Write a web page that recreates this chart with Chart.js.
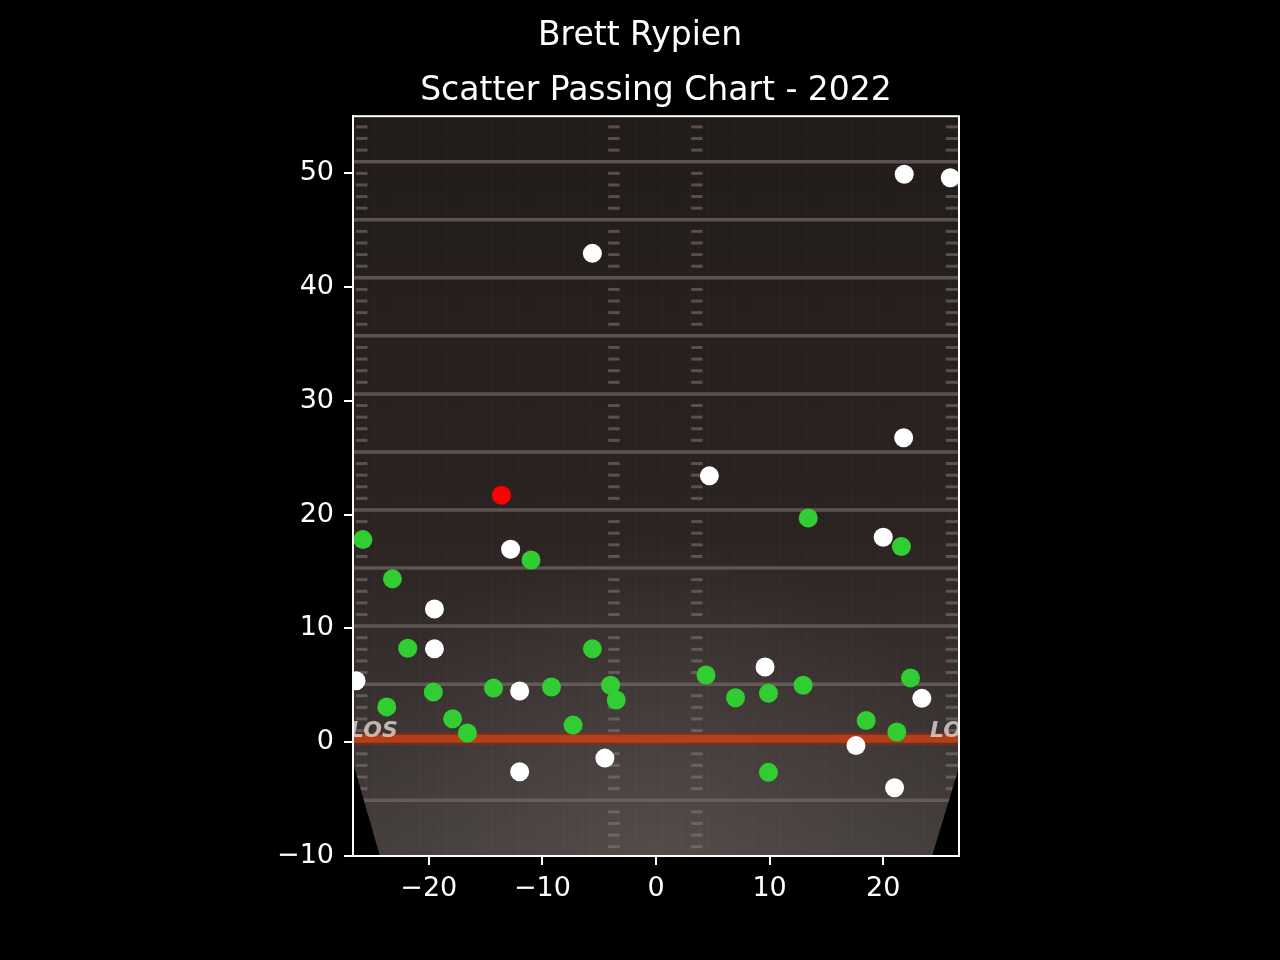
<!DOCTYPE html>
<html>
<head>
<meta charset="utf-8">
<title>Brett Rypien - Scatter Passing Chart - 2022</title>
<script src="https://cdn.jsdelivr.net/npm/chart.js@4.4.1/dist/chart.umd.min.js"></script>
<style>
  html, body { margin: 0; padding: 0; background: #000; }
  #passChart { display: block; }
</style>
</head>
<body>
<canvas id="passChart" width="1280" height="960"></canvas>
<script>
"use strict";

// pass locations: x = yards across field, y = air yards
const completeX = [-25.8, -23.2, -11.0, 13.4, 21.6, -21.85, -5.6, -19.6, -14.3, -9.2, -4.0, -3.5,
  4.4, 7.0, 9.9, 12.95, 22.4, -23.7, -17.9, -16.6, -7.3, 18.5, 21.2, 9.9];
const completeY = [17.8, 14.35, 16.0, 19.7, 17.2, 8.25, 8.2, 4.4, 4.75, 4.85, 5.0, 3.7,
  5.9, 3.9, 4.3, 5.0, 5.65, 3.1, 2.05, 0.8, 1.5, 1.9, 0.9, -2.65];
const incompleteX = [21.85, 25.9, -5.6, 21.8, 4.7, -12.8, 20.0, -19.5, -19.5, 9.6, -26.4, -12.0,
  23.4, 17.6, -4.5, -12.0, 21.0];
const incompleteY = [49.9, 49.6, 42.95, 26.75, 23.4, 16.95, 18.0, 11.7, 8.2, 6.6, 5.4, 4.5,
  3.85, -0.3, -1.4, -2.6, -4.0];
const interceptionX = [-13.6];
const interceptionY = [21.7];

const xTicks = [-20, -10, 0, 10, 20];
const yTicks = [-10, 0, 10, 20, 30, 40, 50];

const toPoints = (xs, ys) => xs.map((x, i) => ({ x: x, y: ys[i] }));
const minusSign = (v) => (v < 0 ? "\u2212" + Math.abs(v) : String(v));

// football field drawn behind the points
const fieldBackground = {
  id: "fieldBackground",
  beforeDatasetsDraw(chart) {
    const { ctx, chartArea: a, scales } = chart;
    const sx = scales.x, sy = scales.y;
    ctx.save();
    ctx.beginPath();
    ctx.rect(a.left, a.top, a.right - a.left, a.bottom - a.top);
    ctx.clip();

    const grad = ctx.createLinearGradient(0, a.top, 0, a.bottom);
    grad.addColorStop(0, "#211b1a");
    grad.addColorStop(0.55, "#2a2321");
    grad.addColorStop(1, "#433d3b");
    ctx.fillStyle = grad;
    ctx.fillRect(a.left, a.top, a.right - a.left, a.bottom - a.top);

    const glow = ctx.createRadialGradient(sx.getPixelForValue(0), a.bottom, 0,
      sx.getPixelForValue(0), a.bottom, 320);
    glow.addColorStop(0, "rgba(120,112,108,0.3)");
    glow.addColorStop(1, "rgba(120,112,108,0)");
    ctx.fillStyle = glow;
    ctx.fillRect(a.left, a.top, a.right - a.left, a.bottom - a.top);

    // faint turf texture
    ctx.strokeStyle = "rgba(255,255,255,0.025)";
    ctx.lineWidth = 1;
    for (let px = a.left + 4; px < a.right; px += 9) {
      ctx.beginPath();
      ctx.moveTo(px, a.top);
      ctx.lineTo(px, a.bottom);
      ctx.stroke();
    }

    // yard lines
    const step = 5.1;
    ctx.strokeStyle = "rgba(115,106,102,0.7)";
    ctx.lineWidth = 3.5;
    for (let k = -2; k <= 11; k++) {
      if (k === 0) continue;
      const py = sy.getPixelForValue(k * step);
      ctx.beginPath();
      ctx.moveTo(a.left, py);
      ctx.lineTo(a.right, py);
      ctx.stroke();
    }

    // hash marks
    const hashCols = [[-26.4, -25.4], [-4.2, -3.2], [3.1, 4.1], [25.5, 26.6]];
    ctx.fillStyle = "rgba(140,130,125,0.5)";
    for (let k = -10; k <= 56; k++) {
      const yy = k * step / 5;
      if (k % 5 === 0) continue;
      const py = sy.getPixelForValue(yy);
      hashCols.forEach(([x0, x1]) => {
        const p0 = sx.getPixelForValue(x0), p1 = sx.getPixelForValue(x1);
        ctx.fillRect(p0, py - 1.5, p1 - p0, 3);
      });
    }

    // line of scrimmage
    const los = sy.getPixelForValue(0.3);
    ctx.fillStyle = "rgba(150,45,15,0.45)";
    ctx.fillRect(a.left, los - 6.5, a.right - a.left, 13);
    ctx.fillStyle = "#b53e18";
    ctx.fillRect(a.left, los - 4, a.right - a.left, 8);
    ctx.font = "italic bold 22px 'DejaVu Sans'";
    ctx.fillStyle = "rgba(225,215,210,0.8)";
    ctx.textBaseline = "middle";
    ctx.textAlign = "left";
    ctx.fillText("LOS", a.left - 3, los - 7);
    ctx.fillText("LOS", a.right - 29, los - 7);

    // field edge falling away at the bottom
    ctx.fillStyle = "#000";
    ctx.beginPath();
    ctx.moveTo(a.left, sy.getPixelForValue(-1.8));
    ctx.lineTo(sx.getPixelForValue(-24.3), a.bottom);
    ctx.lineTo(a.left, a.bottom);
    ctx.closePath();
    ctx.fill();
    ctx.beginPath();
    ctx.moveTo(a.right, sy.getPixelForValue(-2.2));
    ctx.lineTo(sx.getPixelForValue(24.3), a.bottom);
    ctx.lineTo(a.right, a.bottom);
    ctx.closePath();
    ctx.fill();
    ctx.restore();
  },
  afterDraw(chart) {
    const { ctx, chartArea: a } = chart;
    ctx.save();
    ctx.strokeStyle = "#fff";
    ctx.lineWidth = 2;
    ctx.strokeRect(a.left, a.top, a.right - a.left, a.bottom - a.top);
    ctx.restore();
  },
};

const ctx = document.getElementById("passChart").getContext("2d");
new Chart(ctx, {
  type: "scatter",
  data: {
    datasets: [
      { label: "Complete", data: toPoints(completeX, completeY), backgroundColor: "#32cd32" },
      { label: "Incomplete", data: toPoints(incompleteX, incompleteY), backgroundColor: "#ffffff" },
      { label: "Interception", data: toPoints(interceptionX, interceptionY), backgroundColor: "#ff0000" },
    ],
  },
  options: {
    responsive: false,
    devicePixelRatio: 1,
    animation: false,
    layout: { padding: 0 },
    elements: { point: { radius: 9.5, borderWidth: 0, hoverRadius: 9.5 } },
    plugins: {
      legend: { display: false },
      tooltip: { enabled: false },
      title: {
        display: true,
        text: "Brett Rypien",
        color: "#fff",
        font: { family: "'DejaVu Sans'", size: 33, weight: "normal" },
        padding: { top: 17, bottom: 15 },
      },
      subtitle: {
        display: true,
        fullSize: false,
        text: "Scatter Passing Chart - 2022",
        color: "#fff",
        font: { family: "'DejaVu Sans'", size: 33, weight: "normal" },
        padding: { top: 0, bottom: 5 },
      },
    },
    scales: {
      x: {
        type: "linear",
        min: -26.67,
        max: 26.67,
        afterBuildTicks: (s) => { s.ticks = xTicks.map((v) => ({ value: v })); },
        afterFit: (s) => { s.height = 104; },
        grid: { drawOnChartArea: false, drawTicks: true, tickLength: 9, color: "#fff", lineWidth: 2 },
        border: { color: "#fff", width: 2 },
        ticks: {
          color: "#fff",
          padding: 8,
          maxRotation: 0,
          font: { family: "'DejaVu Sans'", size: 27 },
          callback: minusSign,
        },
      },
      y: {
        type: "linear",
        min: -10,
        max: 55,
        afterBuildTicks: (s) => { s.ticks = yTicks.map((v) => ({ value: v })); },
        afterFit: (s) => { s.width = 353; },
        grid: { drawOnChartArea: false, drawTicks: true, tickLength: 9, color: "#fff", lineWidth: 2 },
        border: { color: "#fff", width: 2 },
        ticks: {
          color: "#fff",
          padding: 10,
          font: { family: "'DejaVu Sans'", size: 27 },
          callback: minusSign,
        },
      },
      pad: {
        type: "linear",
        position: "right",
        display: true,
        afterFit: (s) => { s.width = 321; },
        grid: { display: false, drawTicks: false },
        border: { display: false },
        ticks: { display: false },
      },
    },
  },
  plugins: [fieldBackground],
});
</script>
</body>
</html>
